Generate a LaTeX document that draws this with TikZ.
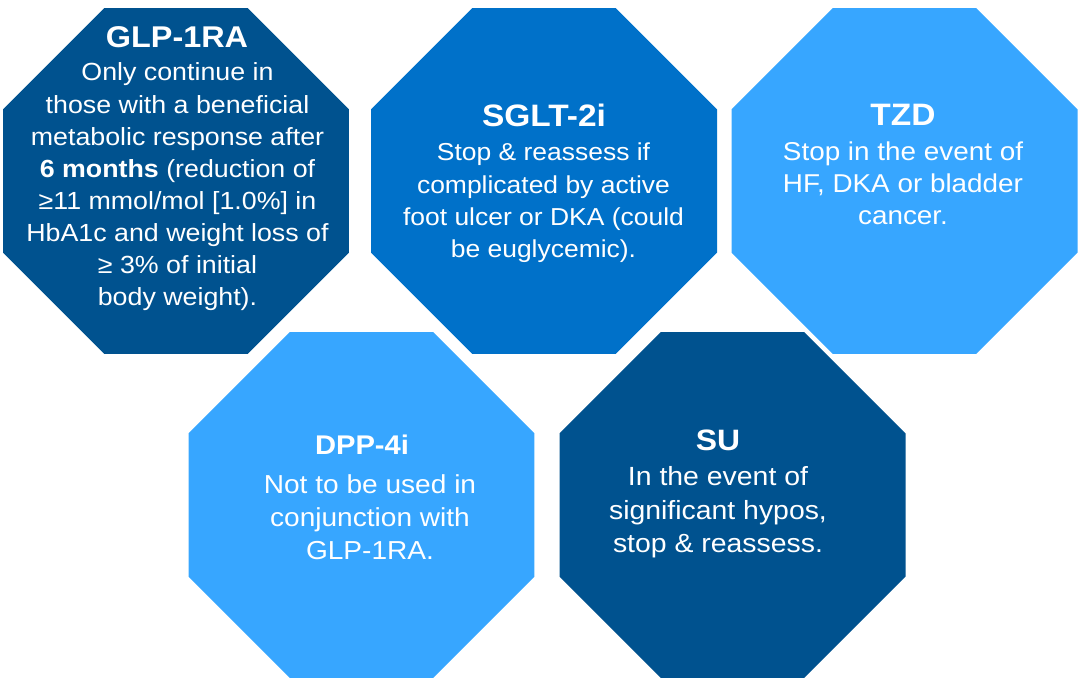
\documentclass[tikz,border=0pt]{standalone}
\usepackage{fontspec}
\setmainfont{Liberation Sans}[FakeStretch=1.08]
\usetikzlibrary{shapes.geometric}
\definecolor{darkblue}{RGB}{0,82,143}
\definecolor{midblue}{RGB}{0,113,201}
\definecolor{lightblue}{RGB}{55,166,255}
\tikzset{
  oct/.style={regular polygon, regular polygon sides=8, minimum size=374.5pt,
    inner sep=0pt, outer sep=0pt, draw=none, fill=#1},
  ttl/.style={anchor=base, text=white, inner sep=0pt,
    font=\fontsize{#1}{34}\selectfont\bfseries},
  ttl/.default=30,
  bdy/.style={anchor=base, text=white, inner sep=0pt}
}
\newcommand{\bodytext}[3]{\parbox[t]{360pt}{\centering\fontsize{#1}{#2}\selectfont #3}}
\begin{document}
\begin{tikzpicture}[x=1pt,y=-1pt]
\useasboundingbox (0,0) rectangle (1078,684);
% octagons
\node[oct=darkblue]  (glp)  at (176,181) {};
\node[oct=midblue]   (sglt) at (544,181) {};
\node[oct=lightblue] (tzd)  at (904.5,181) {};
\node[oct=lightblue] (dpp)  at (361.5,505) {};
\node[oct=darkblue]  (su)   at (732.5,505) {};
% GLP-1RA
\node[ttl=30] (glpT) at (177,47.5) {GLP-1RA};
\node[bdy] (glpB) at (177.5,81) {\bodytext{24.8}{32.1}{Only continue in\\
those with a beneficial\\
metabolic response after\\
\textbf{6 months} (reduction of\\
≥11 mmol/mol [1.0\%] in\\
HbA1c and weight loss of\\
≥ 3\% of initial\\
body weight).}};
% SGLT-2i
\node[ttl=31] (sgltT) at (544,126.5) {SGLT-2i};
\node[bdy] (sgltB) at (543.5,161) {\bodytext{24.5}{32.1}{Stop \& reassess if\\
complicated by active\\
foot ulcer or DKA (could\\
be euglycemic).}};
% TZD
\node[ttl=31] (tzdT) at (903,125.5) {TZD};
\node[bdy] (tzdB) at (903,160.5) {\bodytext{25.8}{32.1}{Stop in the event of\\
HF, DKA or bladder\\
cancer.}};
% DPP-4i
\node[ttl=27] (dppT) at (362,454.5) {DPP-4i};
\node[bdy] (dppB) at (370,493.5) {\bodytext{26}{33}{Not to be used in\\
conjunction with\\
GLP-1RA.}};
% SU
\node[ttl=29.5] (suT) at (718,450.5) {SU};
\node[bdy] (suB) at (718,485.5) {\bodytext{26.3}{33.5}{In the event of\\
significant hypos,\\
stop \& reassess.}};
\end{tikzpicture}
\end{document}
